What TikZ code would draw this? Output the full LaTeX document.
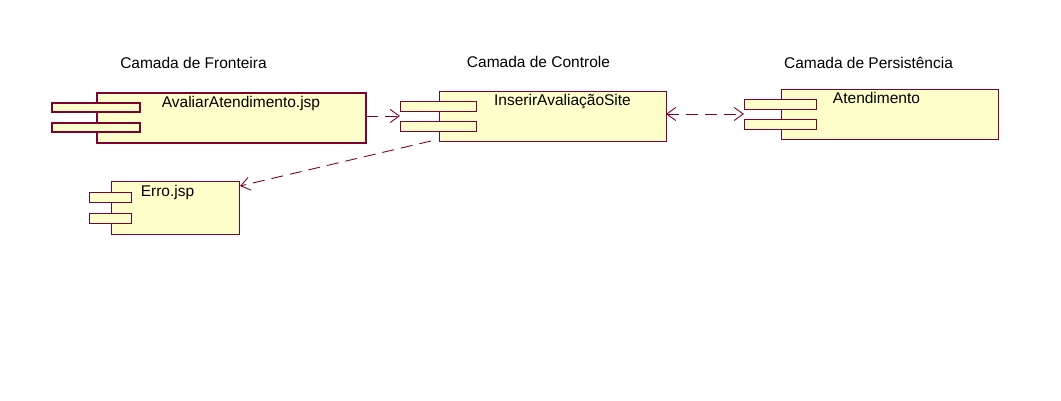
\documentclass[tikz,border=0pt]{standalone}
\usepackage{fontspec}
\setmainfont{Liberation Sans}
\usetikzlibrary{arrows.meta,calc}
\definecolor{umlborder}{RGB}{128,0,48}
\definecolor{umlfill}{RGB}{255,255,204}
\begin{document}
\begin{tikzpicture}[x=1pt,y=-1pt,
  comp/.style={draw=umlborder,fill=umlfill,line width=1pt,inner sep=0pt,outer sep=0pt,rectangle},
  tab/.style={comp},
  lbl/.style={inner sep=0pt,anchor=base,font=\fontsize{15.5}{18}\selectfont},
  dep/.style={draw=umlborder,line width=0.9pt,dash pattern=on 12pt off 7pt,-{Straight Barb[length=9pt,width=13pt]}},
  dep2/.style={draw=umlborder,line width=0.9pt,dash pattern=on 12pt off 7pt,{Straight Barb[length=9pt,width=13pt]}-{Straight Barb[length=9pt,width=13pt]}}]
\useasboundingbox (0,0) rectangle (1061,400);
\fill[white] (0,0) rectangle (1061,400);
% headings
\node[lbl] (h1) at (193.5,68) {Camada de Fronteira};
\node[lbl] (h2) at (538.5,67) {Camada de Controle};
\node[lbl] (h3) at (868.5,68) {Camada de Persistência};
% AvaliarAtendimento.jsp
\node[comp,line width=2pt,minimum width=269pt,minimum height=50pt] (aval) at (231.5,118) {};
\node[tab,line width=2pt,minimum width=88pt,minimum height=9pt] (avalA) at (96,107.5) {};
\node[tab,line width=2pt,minimum width=88pt,minimum height=9pt] (avalB) at (96,127.5) {};
\node[lbl] (avalL) at (241,107) {AvaliarAtendimento.jsp};
% InserirAvaliacaoSite
\node[comp,minimum width=227pt,minimum height=50pt] (ins) at (552.5,116) {};
\node[tab,minimum width=76pt,minimum height=10pt] (insA) at (438,106) {};
\node[tab,minimum width=76pt,minimum height=10pt] (insB) at (438,126) {};
\node[lbl] (insL) at (562.5,105) {InserirAvaliaçãoSite};
% Atendimento
\node[comp,minimum width=217pt,minimum height=50pt] (at) at (889.5,114) {};
\node[tab,minimum width=72pt,minimum height=10pt] (atA) at (780,104) {};
\node[tab,minimum width=72pt,minimum height=10pt] (atB) at (780,124) {};
\node[lbl] (atL) at (876.5,103) {Atendimento};
% Erro.jsp
\node[comp,minimum width=128pt,minimum height=53pt] (erro) at (175,207.5) {};
\node[tab,minimum width=42pt,minimum height=10pt] (erroA) at (110,197) {};
\node[tab,minimum width=42pt,minimum height=10pt] (erroB) at (110,218) {};
\node[lbl] (erroL) at (167.5,196.5) {Erro.jsp};
% connectors
\coordinate (insIn) at ($(insA.south west)!0.5!(insB.north west)$);
\coordinate (atIn) at ($(atA.south west)!0.5!(atB.north west)$);
\coordinate (erroIn) at ($(erro.north east)+(1,5)$);
\coordinate (insOut) at ($(ins.south west)+(-8,0)$);
\draw[dep] (aval.east |- insIn) -- (insIn);
\draw[dep2] (ins.east |- atIn) -- (atIn);
\draw[dep] (insOut) -- (erroIn);
\end{tikzpicture}
\end{document}
